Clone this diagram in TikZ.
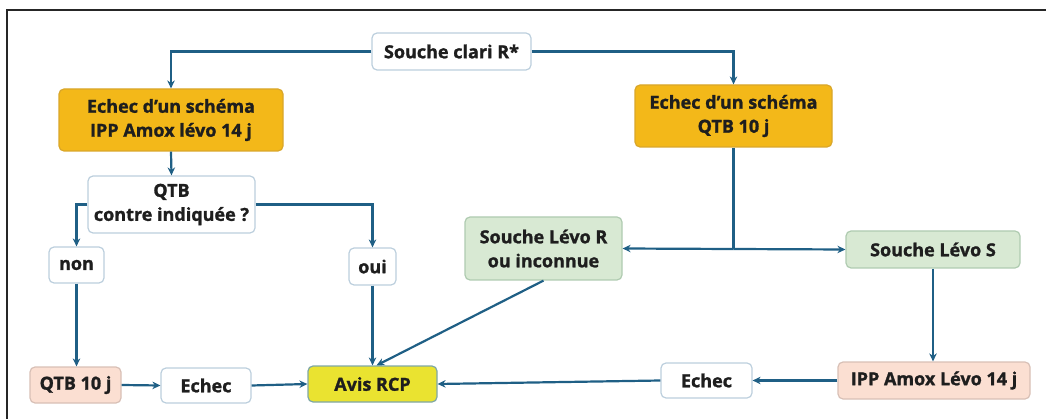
\documentclass[tikz,border=0pt]{standalone}
\usepackage{fontspec}
\setmainfont{Open Sans}[BoldFeatures={FakeBold=1.3}]
\usetikzlibrary{arrows.meta}
\definecolor{conn}{HTML}{1F5F85}
\definecolor{orfill}{HTML}{F3B819}
\definecolor{ordraw}{HTML}{D9A62A}
\definecolor{grfill}{HTML}{D8E9D3}
\definecolor{grdraw}{HTML}{AFCBB0}
\definecolor{pkfill}{HTML}{FBDFD2}
\definecolor{pkdraw}{HTML}{D8C0B6}
\definecolor{yefill}{HTML}{EAE330}
\definecolor{yedraw}{HTML}{7FA7A6}
\definecolor{whdraw}{HTML}{BCCFDD}
\definecolor{txt}{HTML}{1E1E1E}
\tikzset{
  box/.style={rounded corners=5pt, line width=1.2pt, align=center, inner sep=0pt,
    text=txt, font=\fontsize{18}{24}\selectfont\bfseries},
  whitebox/.style={box, draw=whdraw, fill=white},
  orangebox/.style={box, draw=ordraw, fill=orfill},
  greenbox/.style={box, draw=grdraw, fill=grfill},
  pinkbox/.style={box, draw=pkdraw, fill=pkfill},
  yellowbox/.style={box, draw=yedraw, fill=yefill},
  arr/.style={draw=conn, line width=2.2pt, -{Stealth[length=8pt,width=7.5pt]}},
  ln/.style={draw=conn, line width=2.2pt},
  frame/.style={draw=black!85, line width=1.2pt}
}
\begin{document}
\begin{tikzpicture}[x=1pt,y=-1pt]
\useasboundingbox (0,0) rectangle (1046,419);
\draw[frame] (7,419) -- (7,10) -- (1046,10);

\node[whitebox, minimum width=159, minimum height=37] (clari) at (451.5,51.5) {Souche clari R*};
\node[orangebox, minimum width=224, minimum height=62] (ipp) at (171,120) {Echec d’un schéma\\IPP Amox lévo 14 j};
\node[orangebox, minimum width=197, minimum height=62] (qtbo) at (733.5,116) {Echec d’un schéma\\QTB 10 j};
\node[whitebox, minimum width=167, minimum height=57] (qci) at (171.5,204.5) {QTB\\contre indiquée ?};
\node[whitebox, minimum width=55, minimum height=36] (non) at (76.5,265) {non};
\node[whitebox, minimum width=47, minimum height=37] (oui) at (372.5,266.5) {oui};
\node[greenbox, minimum width=157, minimum height=63] (levor) at (543.5,248.5) {Souche Lévo R\\ou inconnue};
\node[greenbox, minimum width=174, minimum height=37] (levos) at (933,249.5) {Souche Lévo S};
\node[pinkbox, minimum width=91, minimum height=36] (qtb10) at (75.5,385) {QTB 10 j};
\node[whitebox, minimum width=90, minimum height=35] (echl) at (206,385.5) {Echec};
\node[yellowbox, minimum width=129, minimum height=36] (avis) at (372.5,384) {Avis RCP};
\node[whitebox, minimum width=91, minimum height=35] (echr) at (706.5,380.5) {Echec};
\node[pinkbox, minimum width=192, minimum height=37] (ippal) at (934,380.5) {IPP Amox Lévo 14 j};

\coordinate (split) at (733.5,249);

\draw[arr] (clari.west) -| (ipp.north);
\draw[arr] (clari.east) -| (qtbo.north);
\draw[arr] (ipp.south) -- (qci.north);
\draw[arr] (qci.west) -| (non.north);
\draw[arr] (qci.east) -| (oui.north);
\draw[arr] (non.south) -- (non.south |- qtb10.north);
\draw[arr] (oui.south) -- (oui.south |- avis.north);
\draw[arr] (levor.south) -- ([xshift=4pt]avis.north);
\draw[ln] (qtbo.south) -- (split);
\draw[arr] (split) -- (levor.east);
\draw[arr] (split) -- (levos.west);
\draw[arr] (levos.south) -- (levos.south |- ippal.north);
\draw[arr] (ippal.west) -- (echr.east);
\draw[arr] (echr.west) -- (avis.east);
\draw[arr] (qtb10.east) -- (echl.west);
\draw[arr] (echl.east) -- (avis.west);
\end{tikzpicture}
\end{document}
